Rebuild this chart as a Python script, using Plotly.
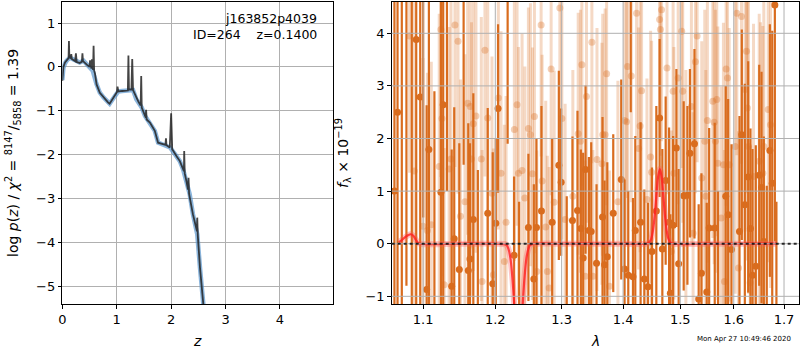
import plotly.graph_objects as go

# ---------------- left panel: log p(z) ----------------
z_smooth = [0.00, 0.02, 0.05, 0.08, 0.14, 0.23, 0.32, 0.39, 0.48, 0.56, 0.63, 0.69, 0.76, 0.84, 0.87,
            0.97, 1.03, 1.10, 1.18, 1.30, 1.36, 1.46, 1.52, 1.61, 1.70, 1.76, 1.82, 1.88, 1.98, 2.07,
            2.16, 2.22, 2.28, 2.34, 2.40, 2.48, 2.53, 2.59, 2.62]
logp_smooth = [-0.30, -0.02, 0.08, 0.14, 0.21, 0.14, 0.10, 0.14, 0.02, -0.09, -0.40, -0.59, -0.70, -0.81, -0.84,
               -0.66, -0.56, -0.55, -0.55, -0.53, -0.74, -0.93, -1.12, -1.27, -1.46, -1.73, -1.76, -1.78, -1.84, -1.99,
               -2.15, -2.34, -2.60, -2.90, -3.36, -3.82, -4.58, -5.43, -5.80]

z_dark = [0.00, 0.02, 0.05, 0.10, 0.115, 0.122, 0.13, 0.155, 0.165, 0.175, 0.235, 0.25, 0.265, 0.32, 0.36,
          0.37, 0.38, 0.45, 0.50, 0.51, 0.52, 0.535, 0.545, 0.555, 0.565, 0.575, 0.585, 0.60, 0.63, 0.69,
          0.76, 0.84, 0.87, 0.97, 1.005, 1.015, 1.03, 1.10, 1.18, 1.205, 1.215, 1.225, 1.27, 1.285, 1.30,
          1.33, 1.40, 1.44, 1.45, 1.46, 1.52, 1.535, 1.54, 1.55, 1.61, 1.70, 1.76, 1.82, 1.895, 1.905,
          1.915, 1.975, 2.00, 2.02, 2.05, 2.10, 2.16, 2.22, 2.235, 2.24, 2.25, 2.28, 2.31, 2.32, 2.33,
          2.40, 2.46, 2.475, 2.48, 2.49, 2.53, 2.59, 2.62]
logp_dark = [-0.32, 0.00, 0.10, 0.17, 0.20, 0.59, 0.22, 0.20, 0.29, 0.18, 0.13, 0.31, 0.11, 0.09, 0.12,
             0.31, 0.13, 0.05, 0.00, 0.15, -0.02, -0.04, 0.17, -0.06, -0.07, 0.48, -0.08, -0.15, -0.40, -0.59,
             -0.70, -0.81, -0.84, -0.66, -0.57, -0.45, -0.56, -0.55, -0.55, -0.54, 0.26, -0.52, -0.52, 0.18, -0.53,
             -0.62, -0.80, -0.88, -0.21, -0.93, -1.12, -1.16, -0.98, -1.20, -1.27, -1.46, -1.73, -1.76, -1.78, -1.63,
             -1.79, -1.84, -1.06, -1.88, -1.95, -2.04, -2.15, -2.34, -2.38, -1.92, -2.43, -2.60, -2.80, -2.53, -2.90,
             -3.36, -3.70, -3.75, -3.44, -3.85, -4.58, -5.43, -5.80]

# ---------------- right panel: spectrum ----------------
wave_dark = [1.0625, 1.0665, 1.0720, 1.0780, 1.0850, 1.0908, 1.0961, 1.1000, 1.1046, 1.1076,
             1.1150, 1.1238, 1.1269, 1.1320, 1.1385, 1.1420, 1.1490, 1.1550, 1.1615,
             1.1639, 1.1686, 1.1750, 1.1891, 1.1963, 1.2007, 1.2040, 1.2180,
             1.2275, 1.2350, 1.2489, 1.2571, 1.2611, 1.2687, 1.2852, 1.2956,
             1.2992, 1.3080, 1.3171, 1.3251, 1.3305, 1.3342, 1.3380, 1.3435, 1.3472,
             1.3559, 1.3657, 1.3691, 1.3736, 1.3835, 1.3969, 1.4025, 1.4088, 1.4130,
             1.4168, 1.4208, 1.4299, 1.4363, 1.4427, 1.4497, 1.4573, 1.4631, 1.4679,
             1.4738, 1.4799, 1.4822, 1.4871, 1.4930, 1.4971, 1.5062, 1.5130, 1.5176,
             1.5259, 1.5337, 1.5388, 1.5487, 1.5532, 1.5637, 1.5700, 1.5846,
             1.5892, 1.5956, 1.6111, 1.6156, 1.6215, 1.6281, 1.6326, 1.6366, 1.6431,
             1.6499, 1.6545, 1.6591, 1.6650, 1.6712, 1.6760, 1.6813, 1.6845]
flux_dark = [1.0, 2.5, -1.4, 5.2, -1.5, 3.88, 2.79, 5.0, -0.87, 1.79,
             -1.6, 0.98, 2.64, 4.8, -0.81, 0.095, -0.49, 5.0, -0.51,
             -0.29, 0.46, -1.6, 0.58, -0.76, 0.39, 2.57, 4.9,
             -0.22, -1.5, 0.31, -0.67, 0.31, 0.62, 0.41, 1.49,
             1.17, -1.6, 0.44, 0.63, 0.29, -0.27, 1.41, 0.25, 0.23,
             -0.37, 0.51, -0.40, -0.25, 0.58, 1.22, -0.48, -0.60, 4.9,
             -0.63, 0.25, 0.41, -0.67, -0.82, -0.15, 0.62, 2.39, -0.10,
             1.20, 0.41, -0.94, 0.35, 1.82, -0.38, 0.91, 0.92, 1.72,
             1.90, -1.05, -0.56, -0.92, 0.30, 0.30, -1.6, 0.90,
             0.55, -0.11, 0.23, 2.07, 0.74, 1.27, 0.29, -0.60, -0.43,
             1.30, 1.07, 0.04, -1.6, 1.77, 1.15, 4.54, -1.5]
err_dark = [6.0, 6.0, 6.5, 6.0, 6.5, 5.5, 5.0, 4.5, 3.5, 3.0,
            4.5, 4.0, 4.5, 3.8, 2.6, 2.5, 2.4, 3.5, 2.8,
            2.2, 2.4, 3.0, 2.0, 2.5, 1.6, 1.6, 3.0,
            1.5, 2.3, 1.4, 1.8, 1.7, 2.0, 1.6, 1.8,
            1.4, 2.5, 1.6, 1.9, 1.5, 2.0, 1.6, 1.4, 1.7,
            1.5, 1.9, 1.6, 1.8, 1.5, 1.9, 1.7, 1.6, 2.4,
            1.5, 1.8, 1.9, 1.7, 1.6, 1.6, 2.0, 1.5, 1.9,
            1.6, 1.8, 1.5, 1.7, 1.5, 1.8, 1.8, 1.7, 1.6,
            1.8, 1.8, 1.9, 1.7, 1.9, 2.0, 2.6, 2.1,
            2.2, 2.0, 2.2, 2.0, 2.3, 2.2, 1.9, 2.4, 2.3,
            2.1, 2.2, 2.0, 2.7, 2.4, 2.9, 4.5, 2.3]

wave_light = [1.0821, 1.0882, 1.0997, 1.1057, 1.1108, 1.1215, 1.1238, 1.1252, 1.1282, 1.1350,
              1.1375, 1.1430, 1.1472, 1.1506, 1.1569, 1.1606, 1.1643, 1.1660, 1.1686, 1.1723,
              1.1799, 1.1810, 1.1851, 1.1891, 1.1952, 1.1972, 1.2044, 1.2083, 1.2132, 1.2157,
              1.2279, 1.2319, 1.2340, 1.2394, 1.2435, 1.2489, 1.2519, 1.2550, 1.2580, 1.2616,
              1.2682, 1.2697, 1.2753, 1.2778, 1.2805, 1.2836, 1.2883, 1.2972, 1.3003, 1.3055,
              1.3177, 1.3262, 1.3298, 1.3321, 1.3375, 1.3395, 1.3483, 1.3500, 1.3566, 1.3647,
              1.3660, 1.3700, 1.3725, 1.3772, 1.3913, 1.4025, 1.4059, 1.4075, 1.4139, 1.4230,
              1.4265, 1.4290, 1.4316, 1.4409, 1.4473, 1.4490, 1.4631, 1.4645, 1.4665, 1.4762,
              1.4840, 1.4871, 1.4885, 1.4962, 1.5026, 1.5045, 1.5102, 1.5203, 1.5234, 1.5277,
              1.5308, 1.5394, 1.5450, 1.5470, 1.5499, 1.5600, 1.5626, 1.5650, 1.5675, 1.5695,
              1.5758, 1.5802, 1.5821, 1.5853, 1.5880, 1.5912, 1.6028, 1.6059, 1.6092, 1.6150,
              1.6220, 1.6248, 1.6265, 1.6287, 1.6320, 1.6386, 1.6499, 1.6525, 1.6571, 1.6591,
              1.6679, 1.6725]
flux_light = [3.95, 1.38, 0.33, 0.25, 0.36, 1.47, 4.07, 2.38, -0.78, 1.42,
              1.61, 4.16, 3.85, 0.52, 0.80, 2.67, 2.61, 1.61, 2.28, 2.43,
              1.61, -0.72, 3.68, 2.39, 0.96, -0.59, 2.77, 1.34, -0.34, 0.41,
              2.17, 2.64, 1.34, 1.39, 0.87, 2.19, 2.07, 1.33, 2.42, -0.53,
              4.16, 1.19, 0.32, -0.53, -0.84, 3.32, 0.79, 4.48, 2.38, 0.46,
              0.90, 2.09, 1.95, 3.40, -0.62, 2.80, 3.83, -0.62, 1.60, 1.52,
              2.07, 2.07, 3.23, -0.81, 0.80, 2.34, 2.32, 3.37, 3.19, 4.38,
              1.81, 2.24, 2.91, 0.84, 1.65, 1.36, 4.26, 4.07, 4.45, 3.34,
              -0.15, 2.90, 1.34, 3.15, 4.04, 2.90, 0.90, 2.61, 0.20, 3.46,
              3.95, 1.25, 1.95, 0.90, 2.34, 2.71, 2.31, 1.95, 2.74, 1.53,
              0.49, 1.50, -0.72, 3.32, 3.15, 1.50, 1.85, 4.38, -0.46, 4.32,
              2.93, 3.66, 2.58, 1.85, -0.74, 1.28, 1.57, 1.31, 1.34, 1.85,
              2.55, 2.26]
err_light = [2.6, 3.4, 3.2, 3.0, 3.1, 2.9, 2.8, 3.0, 2.6, 2.7,
             3.0, 2.7, 2.9, 2.6, 2.8, 2.5, 2.7, 2.6, 2.8, 2.6,
             2.7, 2.5, 2.4, 2.7, 2.6, 2.4, 2.5, 2.7, 2.6, 2.4,
             2.5, 2.3, 2.4, 2.6, 2.5, 2.3, 2.5, 2.4, 2.6, 2.3,
             2.5, 2.4, 2.4, 2.2, 2.3, 2.4, 2.5, 2.4, 2.3, 2.2,
             2.4, 2.3, 2.5, 2.3, 2.2, 2.4, 2.3, 2.4, 2.5, 2.3,
             2.3, 2.4, 2.5, 2.2, 2.3, 2.4, 2.3, 2.5, 2.4, 2.4,
             2.3, 2.4, 2.5, 2.3, 2.4, 2.5, 2.3, 2.4, 2.5, 2.4,
             2.3, 2.5, 2.4, 2.4, 2.6, 2.5, 2.4, 2.6, 2.3, 2.5,
             2.4, 2.6, 2.5, 2.4, 2.7, 2.6, 2.7, 2.5, 2.6, 2.6,
             2.5, 2.7, 2.5, 2.6, 2.7, 2.6, 2.8, 2.7, 2.6, 2.8,
             2.7, 2.7, 2.9, 2.8, 2.6, 2.9, 2.8, 2.9, 2.8, 3.0,
             2.9, 3.1]

wave_model = [1.068, 1.072, 1.076, 1.080, 1.0835, 1.087, 1.090, 1.093, 1.096, 1.150, 1.200,
              1.216, 1.219, 1.222, 1.225, 1.228, 1.231, 1.234, 1.237, 1.240, 1.243, 1.246, 1.249, 1.252,
              1.300, 1.400, 1.4415, 1.4455, 1.4485, 1.4515, 1.4545, 1.4575, 1.4605, 1.4635, 1.4665,
              1.4695, 1.4725, 1.4755, 1.4785, 1.4815, 1.4855, 1.550, 1.620, 1.685]
flux_model = [0.03, 0.07, 0.12, 0.16, 0.18, 0.15, 0.08, 0.02, 0.0, 0.0, 0.0,
              -0.02, -0.09, -0.27, -0.65, -1.21, -1.77, -2.00, -1.77, -1.21, -0.65, -0.27, -0.09, -0.02,
              0.0, 0.0, 0.004, 0.031, 0.099, 0.259, 0.544, 0.927, 1.277, 1.42, 1.277,
              0.927, 0.544, 0.259, 0.099, 0.031, 0.004, 0.0, 0.0, 0.0]

wave_ticks = [1.1, 1.2, 1.3, 1.4, 1.5, 1.6, 1.7]
wave_ticktext = ["1.1", "1.2", "1.3", "1.4", "1.5", "1.6", "1.7"]
flux_ticks = [-1, 0, 1, 2, 3, 4]

title_field = "j163852p4039"
title_id = "ID=264\u00a0\u00a0\u00a0\u00a0z=0.1400"
timestamp = "Mon Apr 27 10:49:46 2020"

ORANGE = "rgb(217,108,30)"
FONT = "DejaVu Sans"
GRID = "#b0b0b0"

fig = go.Figure()

# left panel
fig.add_trace(go.Scatter(x=z_smooth, y=logp_smooth, mode="lines", xaxis="x", yaxis="y",
                         line=dict(color="rgba(90,150,205,0.7)", width=4.5), showlegend=False))
fig.add_trace(go.Scatter(x=z_dark, y=logp_dark, mode="lines", xaxis="x", yaxis="y",
                         line=dict(color="rgba(35,35,35,0.85)", width=1.8), showlegend=False))

# right panel
fig.add_trace(go.Scatter(x=wave_light, y=flux_light, mode="markers", xaxis="x2", yaxis="y2",
                         marker=dict(color="rgba(217,108,30,0.32)", size=7, line=dict(width=0)),
                         error_y=dict(type="data", array=err_light, visible=True, thickness=3, width=0,
                                      color="rgba(217,108,30,0.26)"),
                         showlegend=False))
fig.add_trace(go.Scatter(x=wave_dark, y=flux_dark, mode="markers", xaxis="x2", yaxis="y2",
                         marker=dict(color=ORANGE, size=7, line=dict(width=0)),
                         error_y=dict(type="data", array=err_dark, visible=True, thickness=2.2, width=0,
                                      color=ORANGE),
                         showlegend=False))
fig.add_trace(go.Scatter(x=wave_model, y=flux_model, mode="lines", xaxis="x2", yaxis="y2",
                         line=dict(color="rgba(255,90,90,0.35)", width=6, shape="spline"), showlegend=False))
fig.add_trace(go.Scatter(x=wave_model, y=flux_model, mode="lines", xaxis="x2", yaxis="y2",
                         line=dict(color="rgba(255,30,30,0.8)", width=2.2, shape="spline"), showlegend=False))

axis_common = dict(showline=True, linecolor="black", linewidth=1, mirror=True,
                   ticks="outside", ticklen=3.5, tickwidth=1, tickcolor="black",
                   gridcolor=GRID, gridwidth=1, zeroline=False,
                   tickfont=dict(family=FONT, size=13, color="black"), automargin=False)

# right-panel grid drawn above the error bars (as in the reference)
shapes = []
for v in wave_ticks:
    shapes.append(dict(type="line", xref="x2", yref="y2 domain", x0=v, x1=v, y0=0, y1=1,
                       line=dict(color=GRID, width=1), layer="above"))
for v in flux_ticks:
    shapes.append(dict(type="line", xref="x2 domain", yref="y2", x0=0, x1=1, y0=v, y1=v,
                       line=dict(color=GRID, width=1), layer="above"))
shapes.append(dict(type="line", xref="x2 domain", yref="y2", x0=0, x1=1, y0=0, y1=0,
                   line=dict(color="rgba(0,0,0,0.8)", width=2, dash="dot"), layer="above"))

fig.update_layout(
    width=800, height=350,
    margin=dict(l=0, r=0, t=0, b=0),
    paper_bgcolor="white", plot_bgcolor="white",
    xaxis=dict(domain=[62.3 / 800, 333.3 / 800], range=[0, 4.98], tickvals=[0, 1, 2, 3, 4],
               anchor="y", showgrid=True, **axis_common),
    yaxis=dict(domain=[46 / 350, 348 / 350], range=[-5.41, 1.48], tickvals=[-5, -4, -3, -2, -1, 0, 1],
               anchor="x", showgrid=True, **axis_common),
    xaxis2=dict(domain=[391.7 / 800, 799 / 800], type="log", range=[0.02490, 0.23830],
                tickvals=wave_ticks, ticktext=wave_ticktext,
                anchor="y2", showgrid=False, **axis_common),
    yaxis2=dict(domain=[46 / 350, 348 / 350], range=[-1.146, 4.595], tickvals=flux_ticks,
                anchor="x2", showgrid=False, **axis_common),
    shapes=shapes,
    annotations=[
        dict(text=title_field, xref="paper", yref="paper", x=319 / 800, y=1 - 19 / 350,
             xanchor="right", yanchor="middle", showarrow=False,
             font=dict(family=FONT, size=12.5, color="black")),
        dict(text=title_id, xref="paper", yref="paper", x=319 / 800, y=1 - 35 / 350,
             xanchor="right", yanchor="middle", showarrow=False,
             font=dict(family=FONT, size=12.5, color="black")),
        dict(text="<i>z</i>", xref="paper", yref="paper", x=197.5 / 800, y=1 - 341 / 350,
             xanchor="center", yanchor="middle", showarrow=False,
             font=dict(family=FONT, size=14, color="black")),
        dict(text="<i>λ</i>", xref="paper", yref="paper", x=595 / 800, y=1 - 341 / 350,
             xanchor="center", yanchor="middle", showarrow=False,
             font=dict(family=FONT, size=14, color="black")),
        dict(text="log <i>p</i>(<i>z</i>) / <i>χ</i><sup>2</sup> = <sup>8147</sup>/<sub>5858</sub> = 1.39",
             xref="paper", yref="paper", x=13 / 800, y=1 - 153 / 350, textangle=-90,
             xanchor="center", yanchor="middle", showarrow=False,
             font=dict(family=FONT, size=14, color="black")),
        dict(text="<i>f</i><sub>λ</sub> × 10<sup>−19</sup>",
             xref="paper", yref="paper", x=343 / 800, y=1 - 153 / 350, textangle=-90,
             xanchor="center", yanchor="middle", showarrow=False,
             font=dict(family=FONT, size=14, color="black")),
        dict(text=timestamp, xref="paper", yref="paper", x=744 / 800, y=1 - 339 / 350,
             xanchor="center", yanchor="middle", showarrow=False,
             font=dict(family=FONT, size=7, color="black")),
    ],
)

fig.write_html("out.html", config={"displayModeBar": False},
               post_script="document.body.style.margin='0';document.body.style.padding='0';"
                           "document.body.style.overflow='hidden';")
